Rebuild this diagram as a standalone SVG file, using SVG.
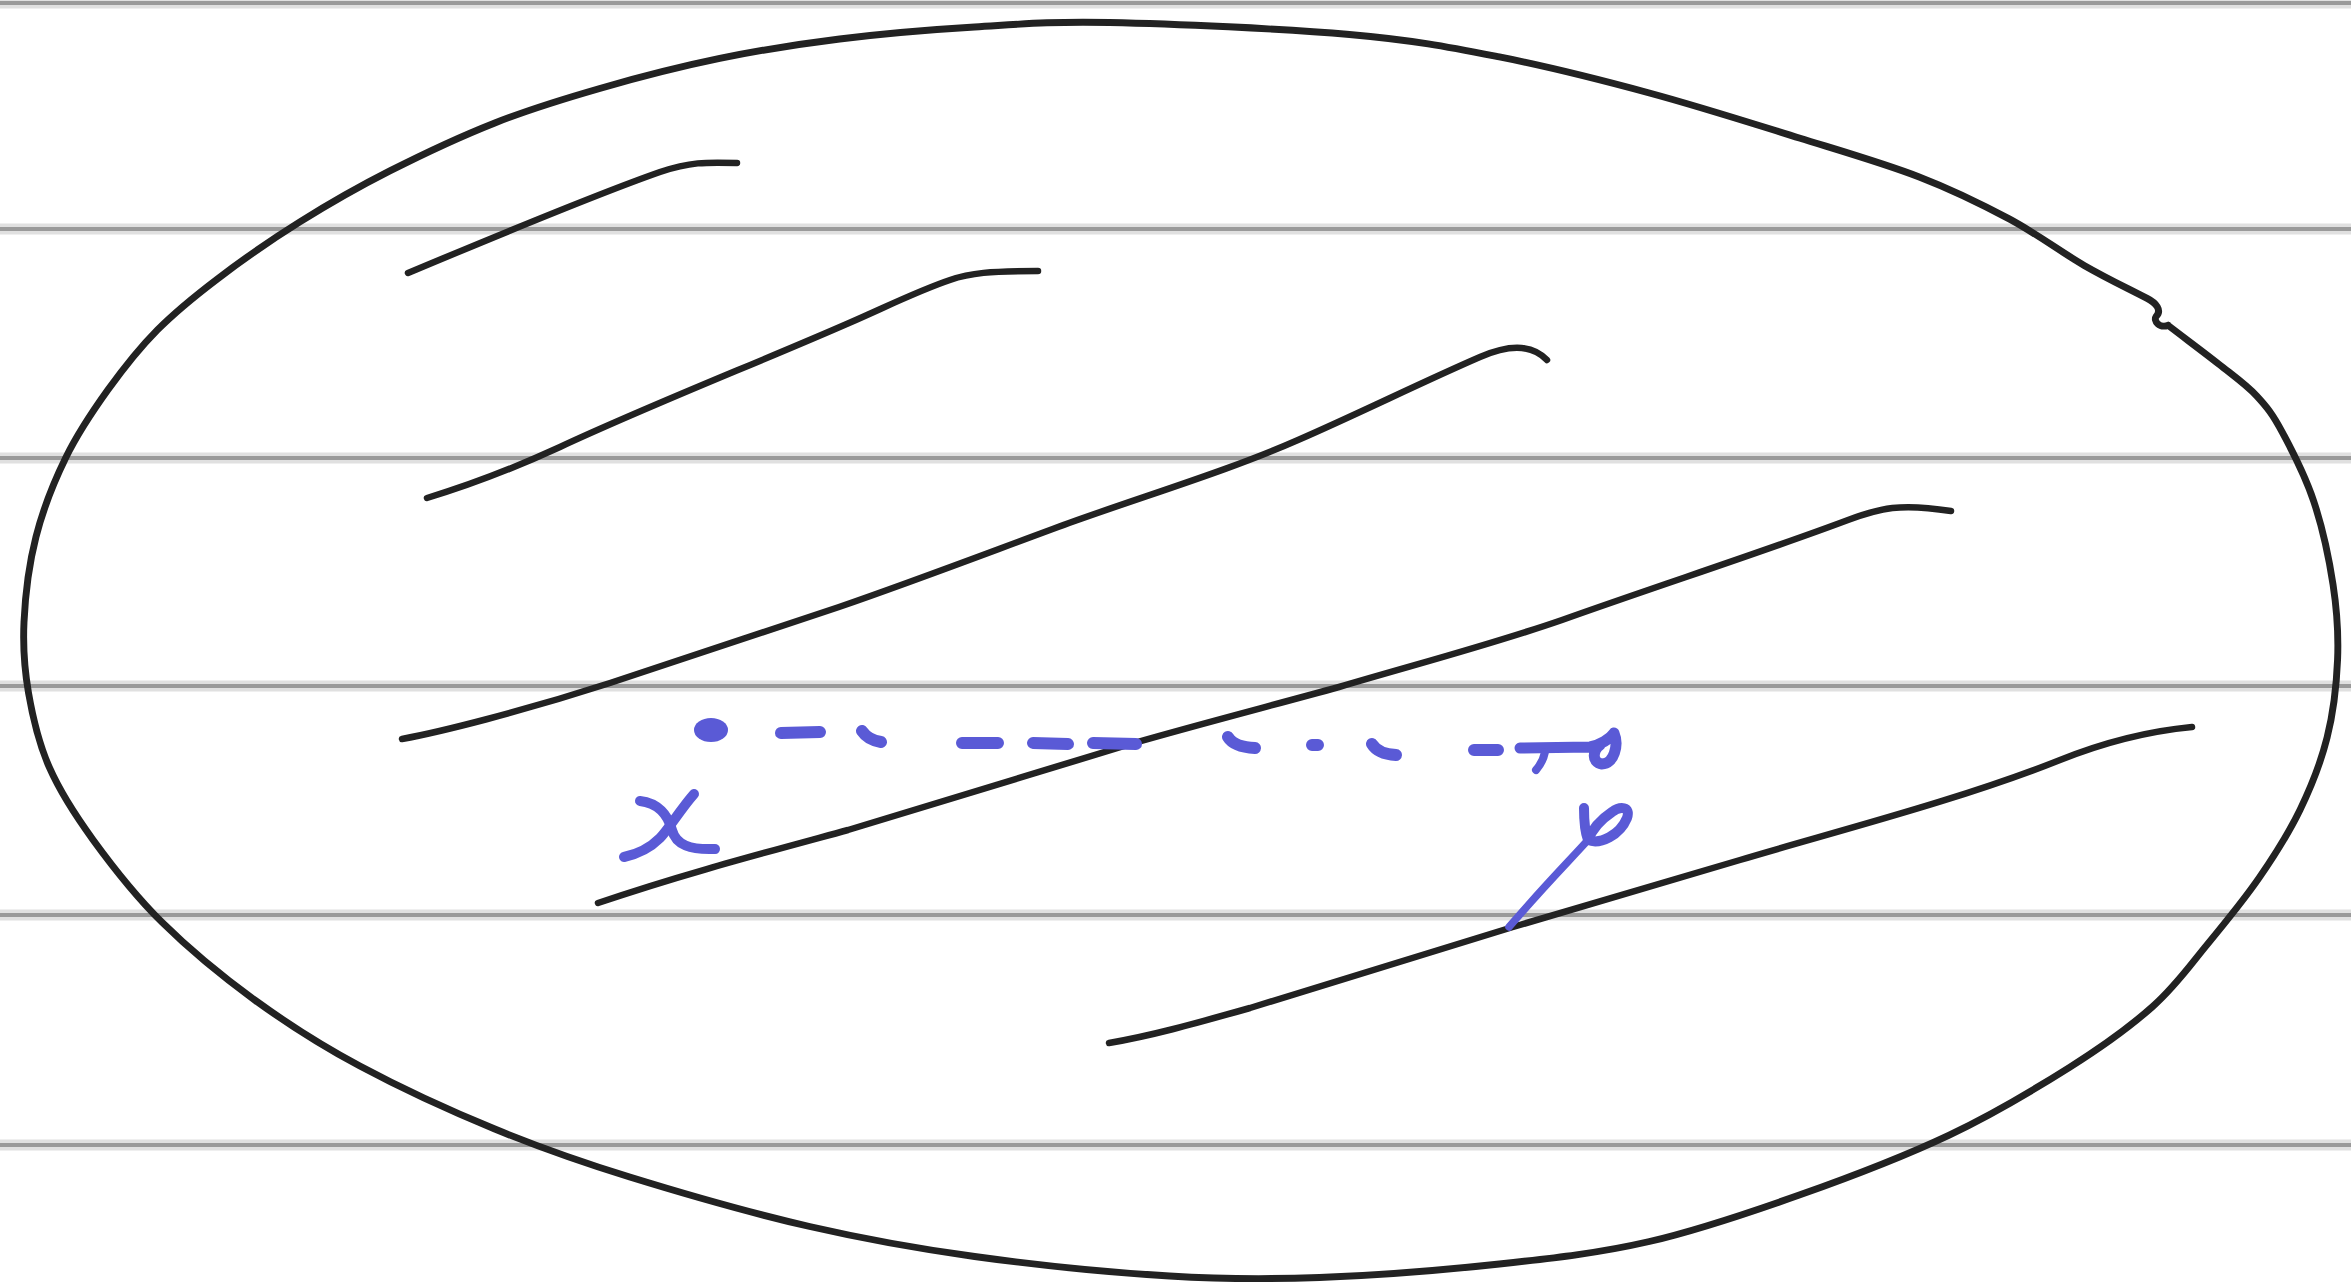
<svg xmlns="http://www.w3.org/2000/svg" width="2351" height="1286" viewBox="0 0 2351 1286">
<style>
.rule-soft{stroke:#e0e0e0;stroke-width:11;fill:none}
.rule{stroke:#9a9a9a;stroke-width:4;fill:none}
.ink{stroke:#222;stroke-width:6.5;fill:none;stroke-linecap:round;stroke-linejoin:round}
.blue{stroke:#5a5ad6;fill:none;stroke-linecap:round;stroke-linejoin:round}
.dash{stroke-width:12}
.pen{stroke-width:10}
</style>
<rect width="2351" height="1286" fill="#fff"/>
<g id="ruled-lines">
<path class="rule-soft" d="M0,3H2351M0,229H2351M0,458H2351M0,686H2351M0,915H2351M0,1145H2351"/>
<path class="rule" d="M0,3H2351M0,229H2351M0,458H2351M0,686H2351M0,915H2351M0,1145H2351"/>
</g>
<g id="outline" transform="scale(1.4994)">
<path class="ink" style="stroke-width:4.6" d="M1446,217 C1457.3,225.7 1470.2,235.2 1480,243 S1498,256.5 1505,264 S1515.7,276.3 1522,288 S1537.3,317 1543,334 S1553.3,372.3 1556,390 S1559.7,423 1559,440 S1556.2,475.3 1552,492 S1541.5,524.5 1534,540 S1517.3,570 1507,585 S1483.8,615.7 1472,630 S1451.3,657.3 1436,671 S1402.7,697.7 1380,712 S1330,742.8 1300,757 S1233.3,785.2 1200,797 S1133.3,820.3 1100,828 S1036.7,839 1000,843 S916.7,850.7 880,852 S818.3,853.3 780,851 S690,843.5 650,838 S578.3,826.8 540,818 S455,795.8 420,785 S360,765.3 330,753 S266.7,725.3 240,711 S192,683 170,667 S126,632.8 108,615 S74.5,577.2 62,560 S40.2,528.3 33,512 S21.8,478.2 19,462 S15.2,432.3 16,415 S19.3,376.3 24,358 S36,321.3 44,305 S61.8,274.2 72,260 S92.8,232.3 105,220 S129.2,198 145,186 S180.8,160 200,148 S238.3,125 260,114 S306.7,91.2 330,82 S375,66.2 400,59 S453.3,44.5 480,39 S531.7,29.5 560,26 S620,19.8 650,18 S698.3,14.2 740,15 S856.7,19.2 900,23 S966.7,31.5 1000,38 S1066.7,53 1100,62 S1170,82.7 1200,92 S1256.7,109 1280,118 S1321.7,136.2 1340,146 S1374.7,168.2 1390,177 S1418,191.7 1432,199 C1438,202 1442,207 1438,211 C1436,214 1440,219 1446,217"/>
</g>
<g id="hatching">
<path class="ink" d="M408,273 C470,247 600,193 660,172 C690,162 705,162 737,163"/>
<path class="ink" d="M427,498 C470,485 510,470 560,447 C650,405 760,362 849,323 C890,305 920,290 950,280 C970,273 990,271 1038,271"/>
<path class="ink" d="M402,739 C440,732 520,712 610,683 L839,607 C920,579 990,552 1069,523 C1150,494 1230,470 1298,440 C1360,413 1420,383 1480,357 C1505,346 1530,342 1547,360"/>
<path class="ink" d="M598,903 C680,875 760,854 848,830 L1134,743 C1200,724 1270,706 1339,687 C1420,663 1490,645 1562,620 C1660,585 1760,553 1848,520 C1880,508 1900,503 1951,511"/>
<path class="ink" d="M1109,1043 C1150,1036 1190,1025 1250,1008 L1513,927 C1600,902 1680,877 1740,860 C1830,833 1960,800 2060,760 C2110,740 2150,731 2192,727"/>
</g>
<g id="dashed-link">
<ellipse cx="711" cy="730" rx="17" ry="12" fill="#5a5ad6"/>
<path class="blue dash" d="M781,733 L820,732 M862,731 Q868,740 881,742 M962,743 L998,743 M1033,743 L1068,744 M1093,743 L1136,744 M1228,737 Q1234,747 1255,748 M1312,745 L1318,745 M1372,744 Q1378,754 1396,755 M1474,750 L1498,750"/>
<path class="blue" style="stroke-width:11" d="M1520,748 L1590,747 C1600,745 1610,739 1614,733 C1619,745 1614,764 1602,764 C1591,762 1593,750 1600,745"/>
<path class="blue" style="stroke-width:8" d="M1545,752 Q1543,762 1536,770"/>
</g>
<g id="label-x">
<path class="blue pen" d="M694,794 C680,810 668,830 660,838 C650,848 638,854 624,857"/>
<path class="blue pen" d="M640,801 C658,803 668,815 672,830 C676,845 690,850 715,849"/>
</g>
<g id="label-y">
<path class="blue pen" d="M1584,808 C1584,820 1585,832 1588,840 C1600,845 1620,835 1627,818 C1631,806 1620,806 1612,812 C1600,820 1592,830 1588,840"/>
<path class="blue" style="stroke-width:7.5" d="M1588,840 C1570,860 1545,885 1509,927"/>
</g>
</svg>
